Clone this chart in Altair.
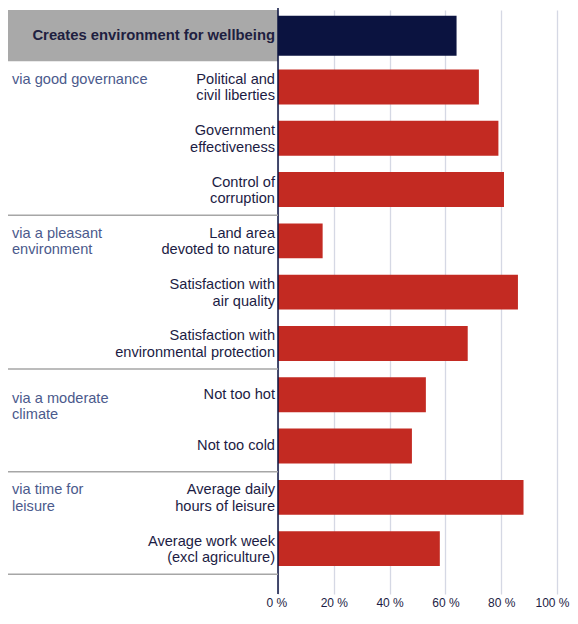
import altair as alt
import pandas as pd

# ---- data ----
labels = [
    "Creates environment for wellbeing",
    "Political and|civil liberties",
    "Government|effectiveness",
    "Control of|corruption",
    "Land area|devoted to nature",
    "Satisfaction with|air quality",
    "Satisfaction with|environmental protection",
    "Not too hot",
    "Not too cold",
    "Average daily|hours of leisure",
    "Average work week|(excl agriculture)",
]
values = [64, 72, 79, 81, 16, 86, 68, 53, 48, 88, 58]
groups = ["header", "gov", "gov", "gov", "env", "env", "env",
          "climate", "climate", "leisure", "leisure"]
group_titles = {
    "gov": "via good governance",
    "env": "via a pleasant|environment",
    "climate": "via a moderate|climate",
    "leisure": "via time for|leisure",
}
tick_values = [0, 20, 40, 60, 80, 100]

keys = [f"r{i:02d}" for i in range(len(labels))]
rows = []
for i, (k, l, v, g) in enumerate(zip(keys, labels, values, groups)):
    first = i == 0 or groups[i - 1] != g
    last = i == len(labels) - 1 or groups[i + 1] != g
    rows.append(dict(
        key=k, label=l, value=v, group=g,
        kind="header" if g == "header" else "item",
        gtitle=group_titles.get(g, "") if first else "",
        sep_after=bool(last and g != "header"),
        nlines=len(l.split("|")),
    ))
df = pd.DataFrame(rows)

# ---- styling ----
FONT = "Liberation Sans"
NAVY = "#0b1340"
RED = "#c32a22"
GRAY_BOX = "#a9a9a9"
SEP = "#a6a6a6"
GRID = "#d5d8e4"
TXT = "#1c1c44"
GTXT = "#4b5a8c"
W, H = 279, 584
LEFT = 270
FS = 14.6
LH = 16.5

yscale = alt.Scale(paddingInner=0, paddingOuter=0.192, align=0, round=False)
yenc = alt.Y("key:N", sort=keys, axis=None, scale=yscale)

xenc = alt.X(
    "value:Q",
    scale=alt.Scale(domain=[0, 100], nice=False),
    axis=alt.Axis(
        values=tick_values, labelExpr="datum.value + ' %'", grid=True,
        gridColor=GRID, gridWidth=1.3, domain=False, ticks=False,
        labelFont=FONT, labelFontSize=12, labelColor="#1c1c44",
        labelPadding=3, labelFlush=True, labelFlushOffset=12, title=None,
    ),
)

base = alt.Chart(df)

box = base.transform_filter("datum.kind == 'header'").mark_rect(color=GRAY_BOX).encode(
    x=alt.value(-LEFT), x2=alt.value(0), y=yenc)

item_bars = base.transform_filter("datum.kind == 'item'").mark_bar(
    color=RED, height={"band": 0.68}).encode(x=xenc, y=yenc)

header_bar = base.transform_filter("datum.kind == 'header'").mark_bar(
    color=NAVY, height={"band": 0.78}).encode(x=alt.X("value:Q"), y=yenc)

axis_rule = alt.Chart(pd.DataFrame({"a": [0]})).mark_rule(
    color=NAVY, strokeWidth=1.5).encode(
    x=alt.value(0), y=alt.value(-2), y2=alt.value(H))

seps = base.transform_filter("datum.sep_after").mark_rule(
    color=SEP, strokeWidth=1.5).encode(
    y=alt.Y("key:N", sort=keys, axis=None, scale=yscale, bandPosition=1),
    x=alt.value(-LEFT), x2=alt.value(0))

item_two = base.transform_filter("datum.kind == 'item' && datum.nlines == 2").mark_text(
    align="right", baseline="top", lineBreak="|", font=FONT,
    fontSize=FS, lineHeight=LH, color=TXT, dy=-15).encode(
    y=yenc, x=alt.value(-3), text="label:N")

item_one = base.transform_filter("datum.kind == 'item' && datum.nlines == 1").mark_text(
    align="right", baseline="middle", font=FONT,
    fontSize=FS, color=TXT).encode(
    y=yenc, x=alt.value(-3), text="label:N")

header_text = base.transform_filter("datum.kind == 'header'").mark_text(
    align="right", baseline="middle", font=FONT, fontSize=14.8,
    fontWeight="bold", color="#1e2040").encode(
    y=yenc, x=alt.value(-3), text="label:N")

g_two = base.transform_filter("datum.gtitle != '' && datum.nlines == 2").mark_text(
    align="left", baseline="top", lineBreak="|", font=FONT, fontSize=FS,
    lineHeight=LH, color=GTXT, dy=-15).encode(
    y=yenc, x=alt.value(-266), text="gtitle:N")

g_one = base.transform_filter("datum.gtitle != '' && datum.nlines == 1").mark_text(
    align="left", baseline="top", lineBreak="|", font=FONT, fontSize=FS,
    lineHeight=LH, color=GTXT, dy=-4).encode(
    y=yenc, x=alt.value(-266), text="gtitle:N")

chart = alt.layer(
    box, item_bars, header_bar, axis_rule, seps,
    item_two, item_one, header_text, g_two, g_one,
).properties(
    width=W, height=H,
    padding={"left": LEFT, "top": 2, "right": 13, "bottom": 14},
    autosize=alt.AutoSizeParams(type="none"),
).configure_view(stroke=None)

chart.save("out.html", embed_options={"renderer": "svg", "actions": False})
